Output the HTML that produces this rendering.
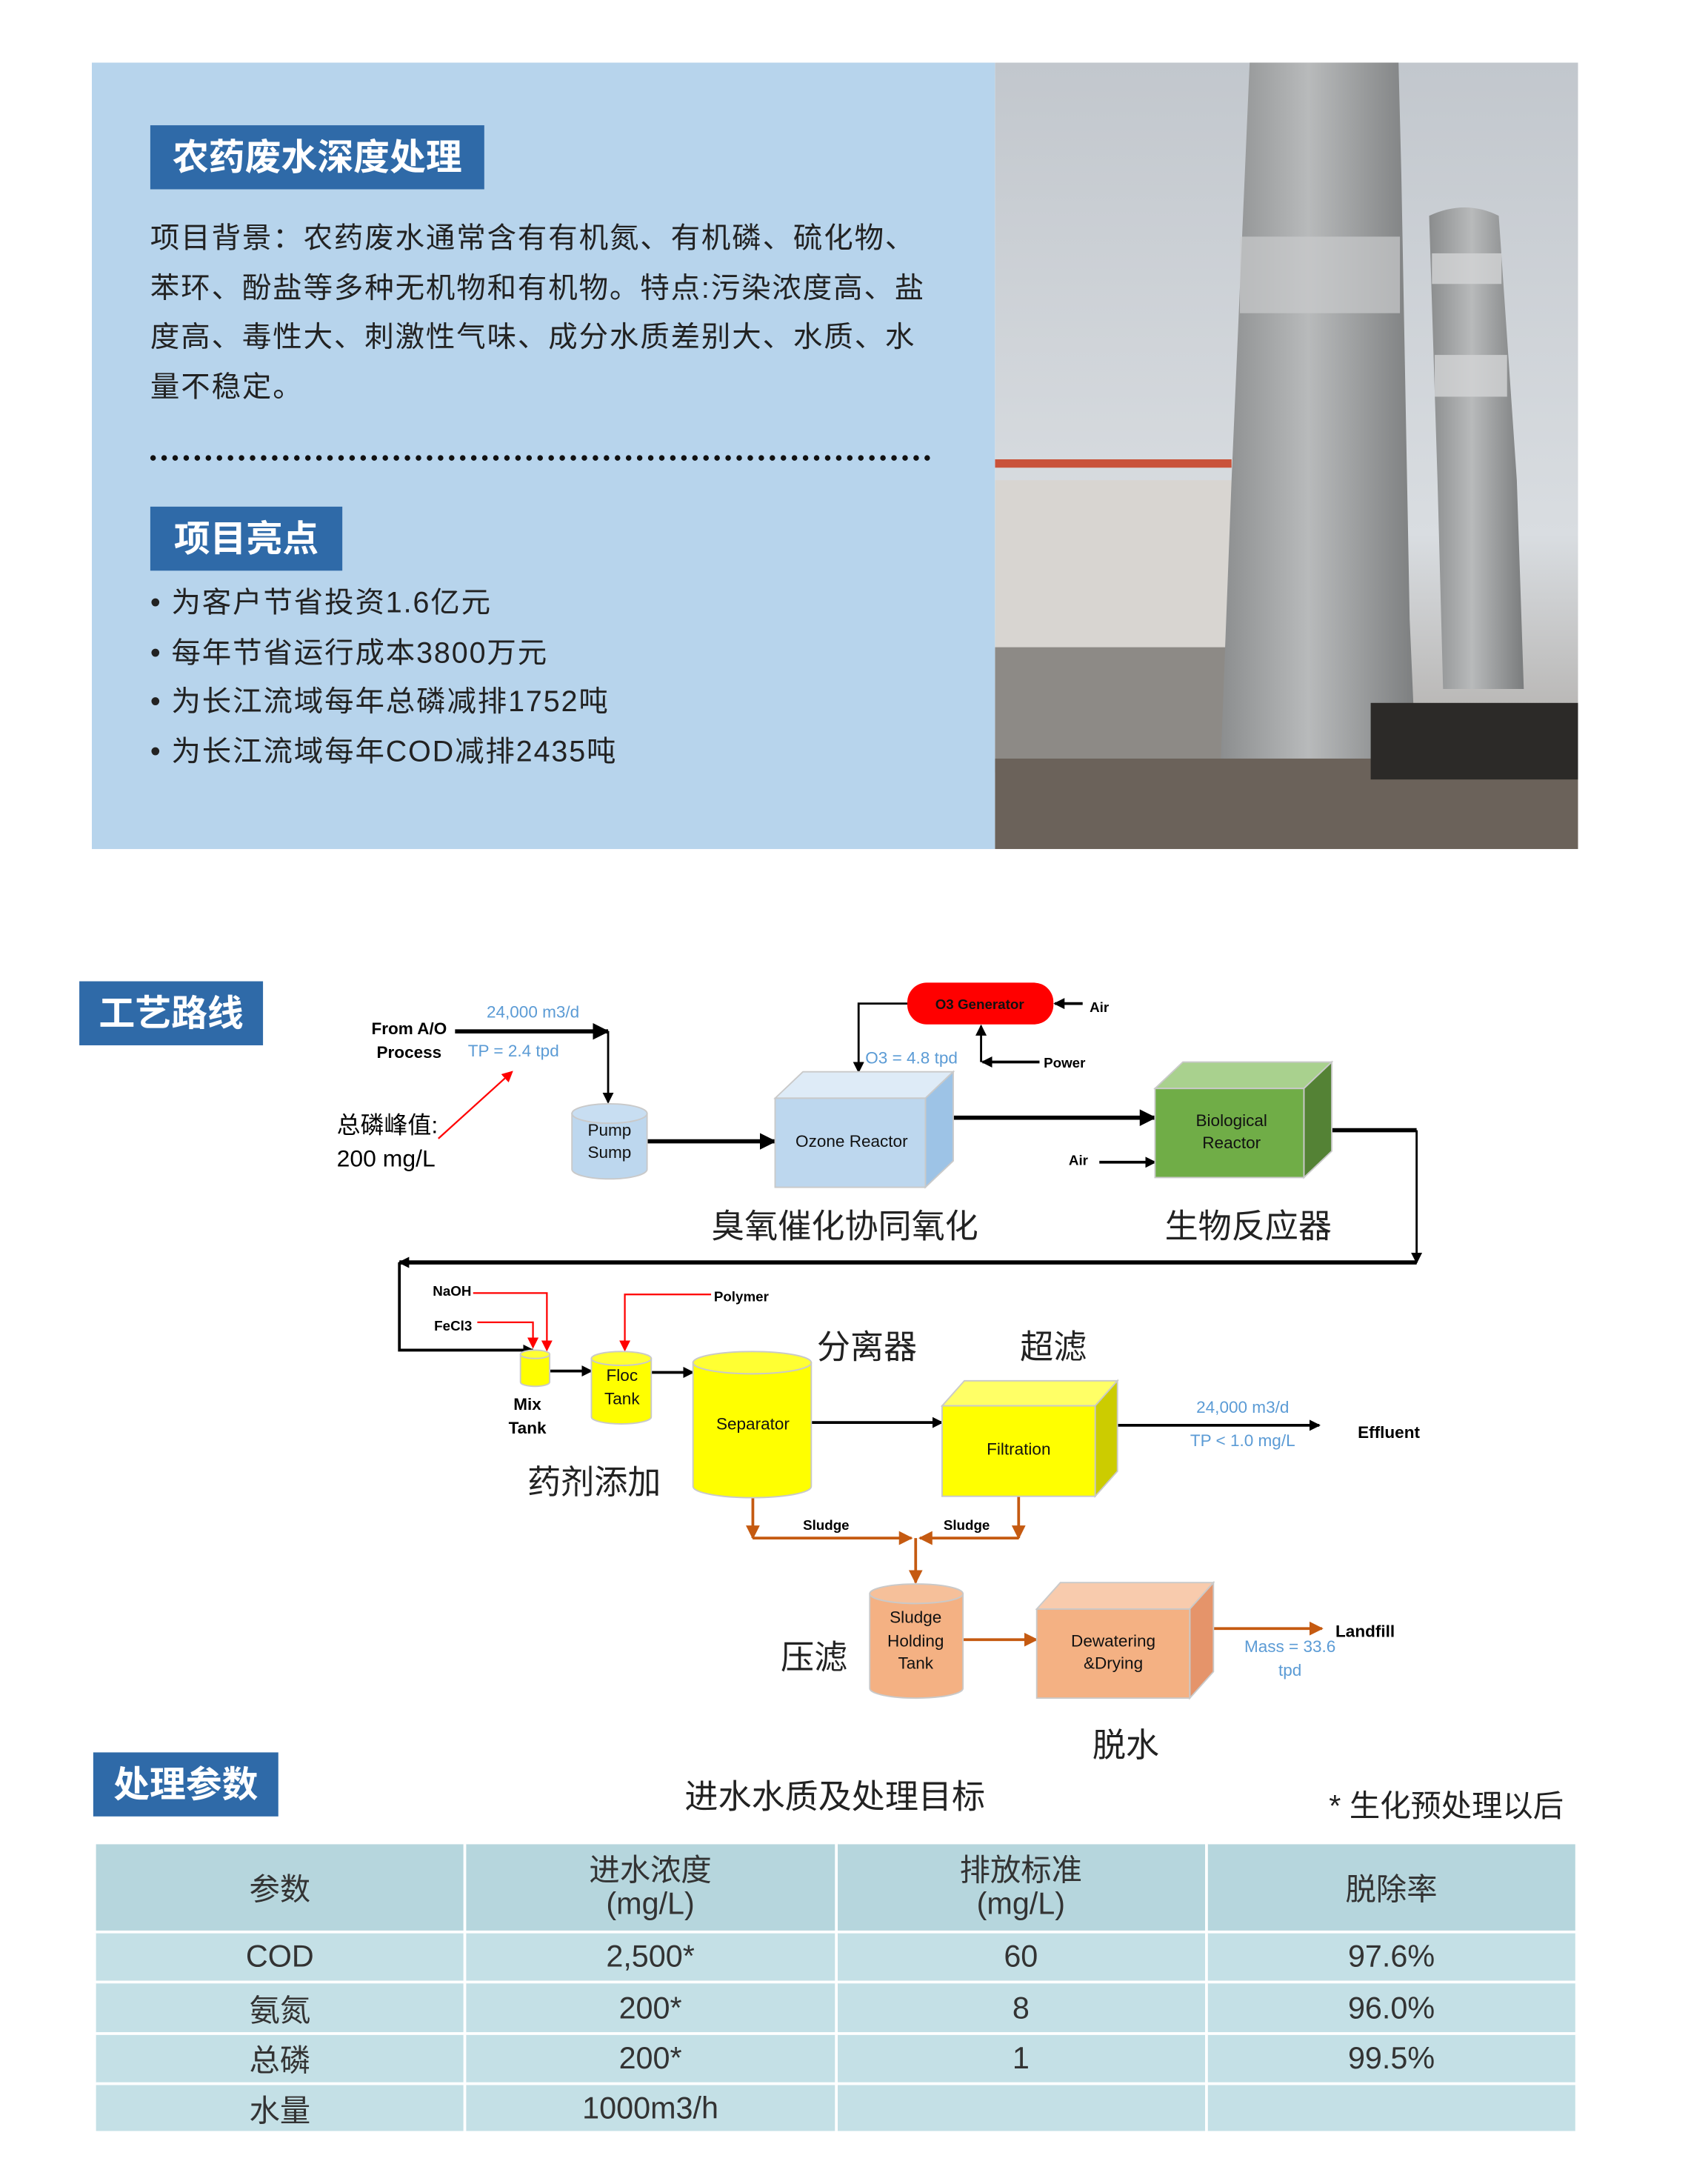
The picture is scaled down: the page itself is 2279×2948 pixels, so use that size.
<!DOCTYPE html>
<html><head><meta charset="utf-8"><style>
html,body{margin:0;padding:0;background:#fff;}
body{width:2279px;height:2948px;overflow:hidden;position:relative;}
#w{position:absolute;left:0;top:0;width:1213px;height:1569px;transform:scale(1.8788);transform-origin:0 0;font-family:"Liberation Sans","Noto Sans CJK SC",sans-serif;}
.a{position:absolute;}
.tb{position:absolute;background:#2f6aa8;color:#fff;font-weight:bold;font-size:26px;line-height:46px;text-align:center;}
.p{position:absolute;left:108px;font-size:21px;color:#222;line-height:35.5px;white-space:nowrap;letter-spacing:1px;}
table{position:absolute;left:67px;top:1323px;width:1067px;border-collapse:collapse;font-size:22px;color:#333;}
td{border:2px solid #fff;text-align:center;background:#c4e0e6;padding:0;}
</style></head><body><div id="w">
<div class="a" style="left:66px;top:45px;width:649px;height:565px;background:#b7d4ec;"></div>
<div class="tb" style="left:108px;top:90px;width:240px;">农药废水深度处理</div>
<div class="p" style="top:154px;">项目背景：农药废水通常含有有机氮、有机磷、硫化物、<br>苯环、酚盐等多种无机物和有机物。特点:污染浓度高、盐<br>度高、毒性大、刺激性气味、成分水质差别大、水质、水<br>量不稳定。</div>
<div class="a" style="left:108px;top:327px;width:561px;border-top:4px dotted #111;"></div>
<div class="tb" style="left:108px;top:364px;width:138px;">项目亮点</div>
<div class="p" style="top:416px;">• 为客户节省投资1.6亿元<br>• 每年节省运行成本3800万元<br>• 为长江流域每年总磷减排1752吨<br>• 为长江流域每年COD减排2435吨</div>
<svg class="a" style="left:715px;top:45px" width="419" height="565">
<defs><linearGradient id="sky" x1="0" y1="0" x2="0" y2="1"><stop offset="0" stop-color="#c2c7cd"/><stop offset="0.6" stop-color="#d9dde1"/><stop offset="1" stop-color="#a09a94"/></linearGradient>
<linearGradient id="cyl" x1="0" x2="1"><stop offset="0" stop-color="#8a8c8d"/><stop offset="0.45" stop-color="#b8babb"/><stop offset="1" stop-color="#7a7c7d"/></linearGradient></defs>
<rect width="419" height="565" fill="url(#sky)"/>
<rect x="0" y="300" width="170" height="200" fill="#d8d5d1"/>
<rect x="0" y="420" width="170" height="90" fill="#8d8a86"/>
<rect x="0" y="285" width="170" height="6" fill="#c9523a"/>
<path d="M183 0 H290 L292 80 L298 400 L305 560 H160 L170 300 Z" fill="url(#cyl)"/>
<rect x="176" y="125" width="115" height="55" fill="#c9cbcc" opacity="0.7"/>
<path d="M312 110 Q338 98 362 110 L375 300 L380 450 H322 L318 300 Z" fill="url(#cyl)"/>
<rect x="314" y="137" width="50" height="22" fill="#d3d5d6" opacity="0.8"/>
<rect x="316" y="210" width="52" height="30" fill="#d3d5d6" opacity="0.8"/>
<rect x="0" y="500" width="419" height="65" fill="#6b625a"/>
<rect x="270" y="460" width="149" height="55" fill="#2c2a28"/>
</svg>
<div class="tb" style="left:57px;top:705px;width:132px;">工艺路线</div>
<div class="tb" style="left:67px;top:1259px;width:133px;">处理参数</div>
<svg class="a" style="left:0;top:0" width="1213" height="1569" font-family="Liberation Sans, Noto Sans CJK SC, sans-serif">
<defs>
<marker id="k" markerWidth="8" markerHeight="8" refX="7" refY="4" orient="auto" markerUnits="userSpaceOnUse"><path d="M0 0 L8 4 L0 8 Z" fill="#000"/></marker>
<marker id="kb" markerWidth="12" markerHeight="12" refX="11" refY="6" orient="auto" markerUnits="userSpaceOnUse"><path d="M0 0 L12 6 L0 12 Z" fill="#000"/></marker>
<marker id="r" markerWidth="8" markerHeight="8" refX="7" refY="4" orient="auto" markerUnits="userSpaceOnUse"><path d="M0 0 L8 4 L0 8 Z" fill="#f00"/></marker>
<marker id="o" markerWidth="10" markerHeight="10" refX="9" refY="5" orient="auto" markerUnits="userSpaceOnUse"><path d="M0 0 L10 5 L0 10 Z" fill="#c55a11"/></marker>
</defs>
<g font-size="12" font-weight="bold" text-anchor="middle">
<text x="294" y="743">From A/O</text><text x="294" y="760">Process</text>
<text x="379" y="1013">Mix</text><text x="379" y="1030">Tank</text>
<text x="998" y="1033">Effluent</text><text x="981" y="1176">Landfill</text>
</g>
<g font-size="10" font-weight="bold">
<text x="783" y="727">Air</text><text x="750" y="767">Power</text><text x="768" y="837">Air</text>
<text x="311" y="931">NaOH</text><text x="312" y="956">FeCl3</text><text x="513" y="935">Polymer</text>
<text x="577" y="1099">Sludge</text><text x="678" y="1099">Sludge</text>
</g>
<g font-size="12" fill="#5b9bd5" text-anchor="middle">
<text x="383" y="731">24,000 m3/d</text><text x="369" y="759">TP = 2.4 tpd</text>
<text x="655" y="764">O3 = 4.8 tpd</text>
<text x="893" y="1015">24,000 m3/d</text><text x="893" y="1039">TP &lt; 1.0 mg/L</text>
<text x="927" y="1187">Mass = 33.6</text><text x="927" y="1204">tpd</text>
</g>
<text x="242" y="814" font-size="17">总磷峰值:</text><text x="242" y="838" font-size="17">200 mg/L</text>
<g font-size="24" text-anchor="middle" fill="#222">
<text x="607" y="889">臭氧催化协同氧化</text><text x="897" y="889">生物反应器</text>
<text x="623" y="976">分离器</text><text x="757" y="976">超滤</text><text x="427" y="1073">药剂添加</text>
<text x="585" y="1199">压滤</text><text x="809" y="1262">脱水</text>
<text x="600" y="1299">进水水质及处理目标</text>
</g>
<text x="955" y="1305" font-size="22" fill="#222">* 生化预处理以后</text>
<g stroke="#000" fill="none">
<path d="M327 741 H437" stroke-width="3" marker-end="url(#kb)"/>
<path d="M437 741 V792" stroke-width="1.5" marker-end="url(#k)"/>
<path d="M465 820 H557" stroke-width="3" marker-end="url(#kb)"/>
<path d="M652 721 H617 V770" stroke-width="1.5" marker-end="url(#k)"/>
<path d="M778 721 H758" stroke-width="2" marker-end="url(#k)"/>
<path d="M705 763 V737" stroke-width="1.5" marker-end="url(#k)"/>
<path d="M747 763 H706" stroke-width="2" marker-end="url(#k)"/>
<path d="M685 803 H830" stroke-width="3" marker-end="url(#kb)"/>
<path d="M790 835 H830" stroke-width="2" marker-end="url(#k)"/>
<path d="M937 812 H1018" stroke-width="3"/>
<path d="M1018 812 V907" stroke-width="1.5" marker-end="url(#k)"/>
<path d="M1018 907 H287" stroke-width="3" marker-end="url(#k)"/>
<path d="M287 907 V970 H383" stroke-width="2" marker-end="url(#k)"/>
<path d="M395 985 H425" stroke-width="2" marker-end="url(#k)"/>
<path d="M468 986 H498" stroke-width="2" marker-end="url(#k)"/>
<path d="M583 1022 H677" stroke-width="2" marker-end="url(#k)"/>
<path d="M803 1024 H948" stroke-width="2" marker-end="url(#k)"/>
</g>
<g stroke="#f00" fill="none" stroke-width="1.2">
<path d="M315 818 L368 770" marker-end="url(#r)"/>
<path d="M340 929 H393 V970" marker-end="url(#r)"/>
<path d="M343 950 H383 V968" marker-end="url(#r)"/>
<path d="M511 930 H449 V970" marker-end="url(#r)"/>
</g>
<g stroke="#c55a11" fill="none" stroke-width="2">
<path d="M541 1075 V1105" marker-end="url(#o)"/>
<path d="M541 1105 H655" marker-end="url(#o)"/>
<path d="M732 1075 V1105" marker-end="url(#o)"/>
<path d="M732 1105 H661" marker-end="url(#o)"/>
<path d="M658 1105 V1137" marker-end="url(#o)"/>
<path d="M692 1178 H745" marker-end="url(#o)"/>
<path d="M872 1170 H950" marker-end="url(#o)"/>
</g>
<g stroke="#c9c9c9" stroke-width="1">
<path d="M411 800 V840 A27 7 0 0 0 465 840 V800 Z" fill="#bdd7ee"/><ellipse cx="438" cy="800" rx="27" ry="7" fill="#c8def2"/>
<path d="M557 789 L577 770 H685 L665 789 Z" fill="#deebf7"/><path d="M665 789 L685 770 V834 L665 853 Z" fill="#9dc3e6"/><rect x="557" y="789" width="108" height="64" fill="#bdd7ee"/>
<path d="M830 782 L850 763 H957 L937 782 Z" fill="#a9d18e"/><path d="M937 782 L957 763 V827 L937 846 Z" fill="#548235"/><rect x="830" y="782" width="107" height="64" fill="#70ad47"/>
<path d="M374 973 V993 A10.5 3 0 0 0 395 993 V973 Z" fill="#ffff00"/><ellipse cx="384.5" cy="973" rx="10.5" ry="3" fill="#ffff33"/>
<path d="M425 976 V1018 A21.5 5 0 0 0 468 1018 V976 Z" fill="#ffff00"/><ellipse cx="446.5" cy="976" rx="21.5" ry="5" fill="#ffff33"/>
<path d="M498 979 V1068 A42.5 8 0 0 0 583 1068 V979 Z" fill="#ffff00"/><ellipse cx="540.5" cy="979" rx="42.5" ry="8" fill="#ffff33"/>
<path d="M677 1010 L693 992 H803 L787 1010 Z" fill="#ffff66"/><path d="M787 1010 L803 992 V1057 L787 1075 Z" fill="#cccc00"/><rect x="677" y="1010" width="110" height="65" fill="#ffff00"/>
<path d="M625 1145 V1213 A33.5 7 0 0 0 692 1213 V1145 Z" fill="#f4b183"/><ellipse cx="658.5" cy="1145" rx="33.5" ry="7" fill="#f6c09a"/>
<path d="M745 1156 L762 1137 H872 L855 1156 Z" fill="#f8cbad"/><path d="M855 1156 L872 1137 V1201 L855 1220 Z" fill="#e5946a"/><rect x="745" y="1156" width="110" height="64" fill="#f4b183"/>
</g>
<rect x="652" y="706" width="105" height="30" rx="14" fill="#f00"/>
<g font-size="12" text-anchor="middle" fill="#111">
<text x="704" y="725" font-size="10" font-weight="bold">O3 Generator</text>
<text x="438" y="816">Pump</text><text x="438" y="832">Sump</text>
<text x="612" y="824">Ozone Reactor</text>
<text x="885" y="809">Biological</text><text x="885" y="825">Reactor</text>
<text x="447" y="992">Floc</text><text x="447" y="1009">Tank</text>
<text x="541" y="1027">Separator</text><text x="732" y="1045">Filtration</text>
<text x="658" y="1166">Sludge</text><text x="658" y="1183">Holding</text><text x="658" y="1199">Tank</text>
<text x="800" y="1183">Dewatering</text><text x="800" y="1199">&amp;Drying</text>
</g>
</svg>
<table>
<tr style="height:64px"><td style="width:25%;background:#b6d6dd">参数</td><td style="width:25%;background:#b6d6dd;line-height:24px">进水浓度<br>(mg/L)</td><td style="width:25%;background:#b6d6dd;line-height:24px">排放标准<br>(mg/L)</td><td style="background:#b6d6dd">脱除率</td></tr>
<tr style="height:36px"><td>COD</td><td>2,500*</td><td>60</td><td>97.6%</td></tr>
<tr style="height:37px"><td>氨氮</td><td>200*</td><td>8</td><td>96.0%</td></tr>
<tr style="height:36px"><td>总磷</td><td>200*</td><td>1</td><td>99.5%</td></tr>
<tr style="height:35px"><td>水量</td><td>1000m3/h</td><td></td><td></td></tr>
</table>
</div></body></html>
